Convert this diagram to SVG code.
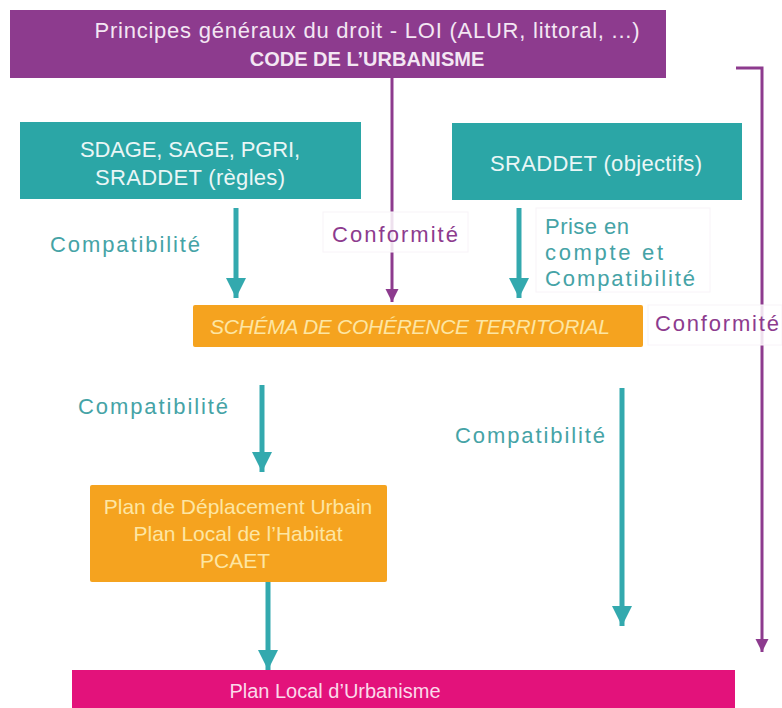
<svg xmlns="http://www.w3.org/2000/svg" width="782" height="708" viewBox="0 0 782 708">
<defs>
<marker id="ah-purple" viewBox="0 0 10 10" refX="10" refY="5" markerWidth="4.5" markerHeight="4.5" orient="auto" markerUnits="strokeWidth">
<path d="M0,0 L10,5 L0,10 Z" fill="#8d3b8e"/>
</marker>
<marker id="ah-t" viewBox="0 0 10 10" refX="10" refY="5" markerWidth="4.2" markerHeight="4" orient="auto" markerUnits="strokeWidth">
<path d="M0,0 L10,5 L0,10 Z" fill="#33a9ae"/>
</marker>
</defs>
<style>
text{font-family:"Liberation Sans","DejaVu Sans",sans-serif;text-anchor:middle}
.tw{fill:#f3e6f3;font-size:22px}
.tb{fill:#eaf6f6;font-size:22px}
.to{fill:#fde6a3;font-size:21px}
.lt{fill:#45a3a6;font-size:22px}
.lp{fill:#8d3b8e;font-size:22px}
.st{text-anchor:start}
.teal{stroke:#33a9ae;stroke-width:5;fill:none;marker-end:url(#ah-t)}
.purp{stroke:#8d3b8e;stroke-width:3;fill:none;marker-end:url(#ah-purple)}
.lbg{fill:#ffffff;stroke:#f8f3f8;stroke-width:1}
</style>
<rect width="782" height="708" fill="#ffffff"/>

<g id="edges">
<line class="purp" x1="392" y1="78" x2="392" y2="302"/>
<polyline class="purp" points="736,68 762,68 762,652"/>
<line class="teal" x1="236" y1="208" x2="236" y2="298"/>
<line class="teal" x1="519" y1="208" x2="519" y2="298"/>
<line class="teal" x1="262" y1="385" x2="262" y2="472"/>
<line class="teal" x1="622" y1="388" x2="622" y2="626"/>
<line class="teal" x1="268" y1="582" x2="268" y2="670"/>
</g>

<g id="labels">
<rect class="lbg" x="323" y="212" width="145" height="40" fill-opacity="0.85"/>
<text class="lp" x="395" y="242" textLength="126">Conformité</text>
<rect class="lbg" x="536" y="208" width="174" height="84" fill-opacity="0.85"/>
<text class="lt st" x="545" y="234" textLength="84">Prise en</text>
<text class="lt st" x="545" y="260" textLength="118">compte et</text>
<text class="lt st" x="545" y="286" textLength="150">Compatibilité</text>
<text class="lt" x="125" y="252" textLength="150">Compatibilité</text>
<rect class="lbg" x="648" y="305" width="134" height="40" fill-opacity="0.85"/>
<text class="lp" x="717" y="331" textLength="124">Conformité</text>
<text class="lt" x="153" y="414" textLength="150">Compatibilité</text>
<text class="lt" x="530" y="443" textLength="150">Compatibilité</text>
</g>

<g id="n-code">
<rect x="10" y="10" width="656" height="68" fill="#8d3b8e"/>
<text class="tw" x="367" y="38" textLength="545">Principes généraux du droit - LOI (ALUR, littoral, ...)</text>
<text class="tw" x="367" y="66" font-weight="bold" style="font-size:20px">CODE DE L’URBANISME</text>
</g>

<g id="n-sdage">
<rect x="20" y="122" width="341" height="77" fill="#2ba6a6"/>
<text class="tb" x="190" y="157" textLength="220">SDAGE, SAGE, PGRI,</text>
<text class="tb" x="190" y="185" textLength="190">SRADDET (règles)</text>
</g>

<g id="n-sraddet">
<rect x="452" y="123" width="290" height="77" fill="#2ba6a6"/>
<text class="tb" x="596" y="171" textLength="212">SRADDET (objectifs)</text>
</g>

<g id="n-scot">
<rect x="193" y="305" width="450" height="42" rx="2" fill="#f5a31f"/>
<text class="to" x="410" y="334" font-style="italic" textLength="400">SCHÉMA DE COHÉRENCE TERRITORIAL</text>
</g>

<g id="n-pdu">
<rect x="90" y="485" width="297" height="97" rx="2" fill="#f5a31f"/>
<text class="to" x="238" y="514">Plan de Déplacement Urbain</text>
<text class="to" x="238" y="541">Plan Local de l’Habitat</text>
<text class="to" x="235" y="568">PCAET</text>
</g>

<g id="n-plu">
<rect x="72" y="670" width="663" height="38" fill="#e3127b"/>
<text x="335" y="698" style="fill:#fbd9ea;font-size:20px">Plan Local d’Urbanisme</text>
</g>
</svg>
